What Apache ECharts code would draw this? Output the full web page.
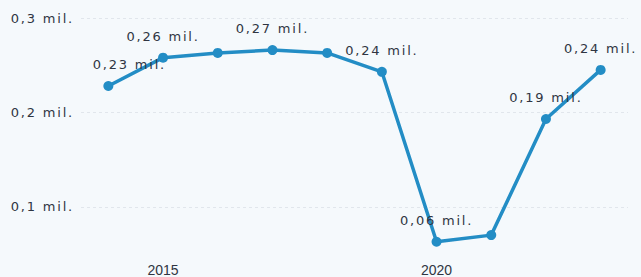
<!DOCTYPE html>
<html>
<head>
<meta charset="utf-8">
<script src="https://cdn.jsdelivr.net/npm/echarts@6/dist/echarts.min.js"></script>
<style>
html,body{margin:0;padding:0;background:#f5f9fc;}
#chart{width:641px;height:277px;}
/* value labels in the original are drawn quite loosely spaced */
#chart text[style*="13px"]{letter-spacing:1.8px;}
</style>
</head>
<body>
<div id="chart"></div>
<script>
var years = ['2014','2015','2016','2017','2018','2019','2020','2021','2022','2023'];
var values = [0.228, 0.258, 0.263, 0.266, 0.263, 0.243, 0.063, 0.070, 0.193, 0.245];
var labeledYears = ['2014','2015','2017','2019','2020','2022','2023'];
var shownXLabels = ['2015','2020'];
var yTicks = [0.1, 0.2, 0.3];

function fmt(v, d) {
    return v.toFixed(d).replace('.', ',') + ' mil.';
}

var seriesData = values.map(function (v, i) {
    var item = {value: v};
    if (labeledYears.indexOf(years[i]) < 0) {
        item.label = {show: false};
    } else if (i === 0) {
        item.label = {offset: [21, 0]};
    }
    return item;
});

var textColor = '#2f3542';
var option = {
    backgroundColor: '#f5f9fc',
    grid: {left: 81, right: 13, top: 18, bottom: 23},
    xAxis: {
        type: 'category',
        data: years,
        boundaryGap: true,
        axisLine: {show: false},
        axisTick: {show: false},
        axisLabel: {
            color: textColor,
            fontSize: 14,
            fontFamily: 'Liberation Sans',
            margin: 9,
            interval: function (idx, val) { return shownXLabels.indexOf(val) >= 0; }
        }
    },
    yAxis: {
        type: 'value',
        min: 0.05,
        max: 0.3,
        axisLine: {show: false},
        axisTick: {show: false, customValues: yTicks},
        axisLabel: {
            customValues: yTicks,
            color: textColor,
            fontSize: 13,
            fontFamily: 'DejaVu Sans',
            margin: 7,
            formatter: function (v) { return fmt(v, 1); }
        },
        splitLine: {
            show: true,
            lineStyle: {color: '#e1e6ec', type: [3, 3], width: 1}
        }
    },
    series: [{
        type: 'line',
        data: seriesData,
        symbol: 'circle',
        symbolSize: 10,
        color: '#238dc5',
        lineStyle: {width: 3.5, color: '#238dc5'},
        label: {
            show: true,
            position: 'top',
            distance: 10,
            color: textColor,
            fontSize: 13,
            fontFamily: 'DejaVu Sans',
            formatter: function (p) { return fmt(p.value, 2); }
        },
        animation: false
    }]
};

var myChart = echarts.init(document.getElementById('chart'), null, {renderer: 'svg'});
myChart.setOption(option);
</script>
</body>
</html>
